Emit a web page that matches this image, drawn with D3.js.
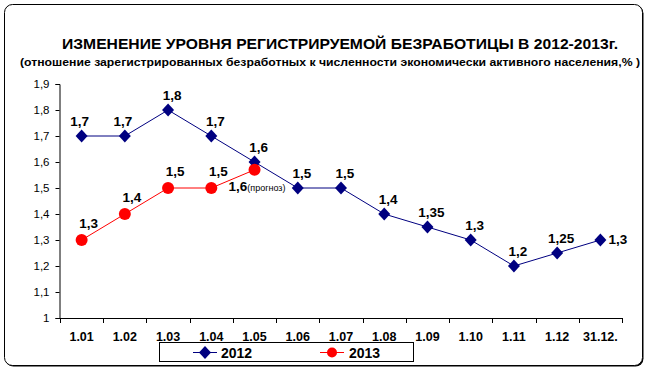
<!DOCTYPE html>
<html>
<head>
<meta charset="utf-8">
<script src="https://cdn.jsdelivr.net/npm/d3@7"></script>
<style>
  body { margin: 0; background: #fff; }
  svg text { font-family: Arial, "Liberation Sans", sans-serif; }
</style>
</head>
<body>
<div id="chart"></div>
<script>
const W = 648, H = 373

// data
const categories = ['1.01', '1.02', '1.03', '1.04', '1.05', '1.06', '1.07', '1.08', '1.09', '1.10', '1.11', '1.12', '31.12.']
const values2012 = [1.7, 1.7, 1.8, 1.7, 1.6, 1.5, 1.5, 1.4, 1.35, 1.3, 1.2, 1.25, 1.3]
const values2013 = [1.3, 1.4, 1.5, 1.5, 1.57]
const labels2012 = ['1,7', '1,7', '1,8', '1,7', '1,6', '1,5', '1,5', '1,4', '1,35', '1,3', '1,2', '1,25', '1,3']
const labels2013 = ['1,3', '1,4', '1,5', '1,5', '1,6']
const yTicks = [1, 1.1, 1.2, 1.3, 1.4, 1.5, 1.6, 1.7, 1.8, 1.9]
const yTickLabels = ['1', '1,1', '1,2', '1,3', '1,4', '1,5', '1,6', '1,7', '1,8', '1,9']

const navy = '#000080'
const red = '#ff0000'

const svg = d3.select('#chart')
    .append('svg')
    .attr('width', W)
    .attr('height', H)

// frame with small shadow
svg.append('rect')
    .attr('x', 5.5).attr('y', 5.5)
    .attr('width', 638).attr('height', 361)
    .attr('rx', 8)
    .attr('fill', '#000')
svg.append('rect')
    .attr('x', 4.5).attr('y', 4.5)
    .attr('width', 638).attr('height', 361)
    .attr('rx', 8)
    .attr('fill', '#fff')
    .attr('stroke', '#000')

// titles
svg.append('text')
    .attr('x', 340).attr('y', 49)
    .attr('text-anchor', 'middle')
    .attr('font-size', 14.5)
    .attr('font-weight', 'bold')
    .attr('textLength', 556)
    .attr('lengthAdjust', 'spacingAndGlyphs')
    .text('ИЗМЕНЕНИЕ УРОВНЯ РЕГИСТРИРУЕМОЙ БЕЗРАБОТИЦЫ В 2012-2013г.')

svg.append('text')
    .attr('x', 330).attr('y', 66)
    .attr('text-anchor', 'middle')
    .attr('font-size', 11)
    .attr('font-weight', 'bold')
    .attr('textLength', 620)
    .attr('lengthAdjust', 'spacingAndGlyphs')
    .text('(отношение зарегистрированных безработных к численности экономически активного населения,% )')

// scales
const x = d3.scaleBand()
    .domain(categories)
    .range([60, 622])
const y = d3.scaleLinear()
    .domain([1, 1.9])
    .range([318, 84])

const cx = c => x(c) + x.bandwidth() / 2

// y axis
const yAxis = d3.axisLeft(y)
    .tickValues(yTicks)
    .tickSize(4)
    .tickPadding(6)
    .tickFormat((d, i) => yTickLabels[i])

const gy = svg.append('g')
    .attr('transform', 'translate(59.5,0)')
    .call(yAxis)
gy.select('.domain').attr('stroke', '#000')
gy.selectAll('.tick line').attr('stroke', '#000')
gy.selectAll('.tick text')
    .attr('font-size', 11.5)
    .attr('fill', '#000')

// x axis (ticks on category boundaries)
const gx = svg.append('g')
svg.append('line')
    .attr('x1', 59.5).attr('x2', 622.5)
    .attr('y1', 318.5).attr('y2', 318.5)
    .attr('stroke', '#000')
gx.selectAll('line.bound')
    .data(categories.concat(['end']))
    .enter()
    .append('line')
    .attr('x1', (d, i) => Math.round(i < categories.length ? x(d) : x.range()[1]) + 0.5)
    .attr('x2', (d, i) => Math.round(i < categories.length ? x(d) : x.range()[1]) + 0.5)
    .attr('y1', 318)
    .attr('y2', 323)
    .attr('stroke', '#000')
gx.selectAll('text')
    .data(categories)
    .enter()
    .append('text')
    .attr('x', d => cx(d))
    .attr('y', 341)
    .attr('text-anchor', 'middle')
    .attr('font-size', 12.5)
    .attr('font-weight', 'bold')
    .text(d => d)

// lines
const line = d3.line()
    .x((d, i) => cx(categories[i]))
    .y(d => y(d))

svg.append('path')
    .datum(values2012)
    .attr('d', line)
    .attr('fill', 'none')
    .attr('stroke', navy)
    .attr('stroke-width', 1)

svg.append('path')
    .datum(values2013)
    .attr('d', line)
    .attr('fill', 'none')
    .attr('stroke', red)
    .attr('stroke-width', 1)

const diamond = 'M0,-6.5L6,0L0,6.5L-6,0Z'

svg.selectAll('path.d2012')
    .data(values2012)
    .enter()
    .append('path')
    .attr('class', 'd2012')
    .attr('d', diamond)
    .attr('transform', (d, i) => `translate(${cx(categories[i])},${y(d)})`)
    .attr('fill', navy)

svg.selectAll('circle.d2013')
    .data(values2013)
    .enter()
    .append('circle')
    .attr('class', 'd2013')
    .attr('cx', (d, i) => cx(categories[i]))
    .attr('cy', d => y(d))
    .attr('r', 6)
    .attr('fill', red)

// data labels
const last = values2012.length - 1
svg.selectAll('text.l2012')
    .data(values2012)
    .enter()
    .append('text')
    .attr('class', 'l2012')
    .attr('x', (d, i) => i === last ? cx(categories[i]) + 8 : cx(categories[i]) + (i < 2 ? -2 : 4))
    .attr('y', (d, i) => i === last ? y(d) + 4 : y(d) - 10)
    .attr('text-anchor', (d, i) => i === last ? 'start' : 'middle')
    .attr('font-size', 13.5)
    .attr('font-weight', 'bold')
    .text((d, i) => labels2012[i])

const last13 = values2013.length - 1
const l13 = svg.selectAll('text.l2013')
    .data(values2013)
    .enter()
    .append('text')
    .attr('class', 'l2013')
    .attr('x', (d, i) => i === last13 ? cx(categories[i]) - 26 : cx(categories[i]) + 7)
    .attr('y', (d, i) => i === last13 ? y(d) + 21 : y(d) - 12)
    .attr('text-anchor', (d, i) => i === last13 ? 'start' : 'middle')
    .attr('font-size', 13.5)
    .attr('font-weight', 'bold')
l13.append('tspan').text((d, i) => labels2013[i])
l13.filter((d, i) => i === last13)
    .append('tspan')
    .attr('font-size', 9)
    .attr('font-weight', 'normal')
    .text('(прогноз)')

// legend
const lg = svg.append('g')
lg.append('rect')
    .attr('x', 159.5).attr('y', 342.5)
    .attr('width', 254).attr('height', 19)
    .attr('fill', '#fff')
    .attr('stroke', '#000')
lg.append('line')
    .attr('x1', 193).attr('x2', 217).attr('y1', 352.5).attr('y2', 352.5)
    .attr('stroke', navy)
lg.append('path')
    .attr('d', diamond)
    .attr('transform', 'translate(205,352.5)')
    .attr('fill', navy)
lg.append('text')
    .attr('x', 221).attr('y', 357.5)
    .attr('font-size', 14).attr('font-weight', 'bold')
    .text('2012')
lg.append('line')
    .attr('x1', 320).attr('x2', 344).attr('y1', 352.5).attr('y2', 352.5)
    .attr('stroke', red)
lg.append('circle')
    .attr('cx', 332).attr('cy', 352.5).attr('r', 5)
    .attr('fill', red)
lg.append('text')
    .attr('x', 349).attr('y', 357.5)
    .attr('font-size', 14).attr('font-weight', 'bold')
    .text('2013')
</script>
</body>
</html>
